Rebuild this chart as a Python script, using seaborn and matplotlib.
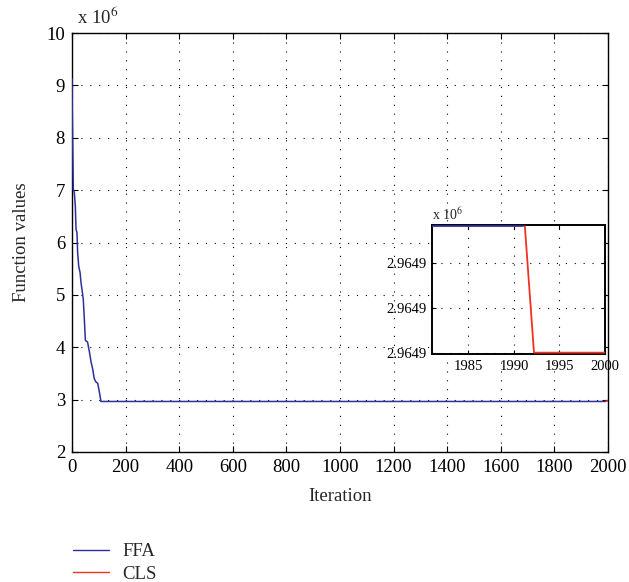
import matplotlib
matplotlib.use("Agg")
import matplotlib.pyplot as plt
from matplotlib.ticker import FuncFormatter, MultipleLocator
from matplotlib.lines import Line2D
import seaborn as sns

# best-so-far function value of FFA
ffa_iter = [0, 1, 2.5, 5, 8.7, 12.4, 15, 18.6, 21, 25, 30, 33.5, 37, 42, 46, 50,
            58, 65, 71, 77, 83, 89, 96, 102, 108, 1991]
ffa_vals = [9.13e6, 8.53e6, 7.96e6, 7.01e6, 6.95e6, 6.69e6, 6.25e6, 6.19e6, 5.81e6,
            5.55e6, 5.43e6, 5.24e6, 5.11e6, 4.92e6, 4.54e6, 4.13e6, 4.10e6, 3.91e6,
            3.72e6, 3.59e6, 3.40e6, 3.34e6, 3.31e6, 3.15e6, 2964900.1415, 2964900.1415]
# CLS refinement at the end of the run
cls_iter = [1991.2, 1992.2, 2000]
cls_vals = [2964900.1415, 2964900.0, 2964900.0]

inset_yticks = [2964900.0, 2964900.05, 2964900.10]
inset_xticks = [1985, 1990, 1995, 2000]

ffa_color = "#2f2f9c"
cls_color = "#ee3322"

sns.set_style("ticks")
plt.rcParams["font.family"] = ["Liberation Serif", "DejaVu Serif"]
plt.rcParams["mathtext.fontset"] = "stix"

fig = plt.figure(figsize=(6.29, 5.82), dpi=100)
ax = fig.add_axes([72 / 629, 1 - 452 / 582, 536 / 629, 419 / 582])

sns.lineplot(x=ffa_iter, y=ffa_vals, ax=ax, color=ffa_color, lw=1.1, zorder=3)
sns.lineplot(x=cls_iter, y=cls_vals, ax=ax, color=cls_color, lw=1.1, zorder=3)

ax.set_xlim(0, 2000)
ax.set_ylim(2e6, 10e6)
ax.xaxis.set_major_locator(MultipleLocator(200))
ax.yaxis.set_major_locator(MultipleLocator(1e6))
ax.yaxis.set_major_formatter(FuncFormatter(lambda v, p: f"{v / 1e6:.0f}"))
ax.tick_params(direction="in", top=True, right=True, labelsize=13.5, length=4,
               colors="black", pad=5)
ax.grid(True, linestyle=(0, (1, 7)), color="black", lw=0.8)
for s in ax.spines.values():
    s.set_color("black")
    s.set_linewidth(1)
ax.set_xlabel("Iteration", fontsize=13.5, labelpad=9)
ax.set_ylabel("Function values", fontsize=13.5, labelpad=12)
ax.text(0.01, 1.012, r"x 10$^{6}$", transform=ax.transAxes, fontsize=13.5,
        ha="left", va="bottom")

# zoomed inset on the last iterations
ins = fig.add_axes([432 / 629, 1 - 354 / 582, 173 / 629, 129 / 582])
ins.set_facecolor("white")
sns.lineplot(x=ffa_iter, y=ffa_vals, ax=ins, color=ffa_color, lw=1.3, zorder=3)
sns.lineplot(x=cls_iter, y=cls_vals, ax=ins, color=cls_color, lw=1.3, zorder=3)
ins.set_xlim(1981, 2000)
ins.set_ylim(2964900.0 - 0.0015, 2964900.1415 + 0.0015)
ins.set_xticks(inset_xticks)
ins.set_yticks(inset_yticks)
ins.yaxis.set_major_formatter(FuncFormatter(lambda v, p: f"{v / 1e6:.4f}"))
ins.tick_params(direction="in", top=True, right=True, labelsize=10.5, length=3,
                colors="black", pad=4)
ins.grid(True, linestyle=(0, (1, 7)), color="black", lw=0.8)
for s in ins.spines.values():
    s.set_color("black")
    s.set_linewidth(1.4)
ins.text(0.0, 1.015, r"x 10$^{6}$", transform=ins.transAxes, fontsize=10,
         ha="left", va="bottom")

handles = [Line2D([0], [0], color=ffa_color, lw=1),
           Line2D([0], [0], color=cls_color, lw=1)]
fig.legend(handles, ["FFA", "CLS"], loc="lower left", bbox_to_anchor=(0.110, -0.008),
           frameon=False, fontsize=13.5, handlelength=1.9, handletextpad=0.75,
           labelspacing=0.3, borderpad=0.2, borderaxespad=0)

fig.savefig("out.png", dpi=100)
